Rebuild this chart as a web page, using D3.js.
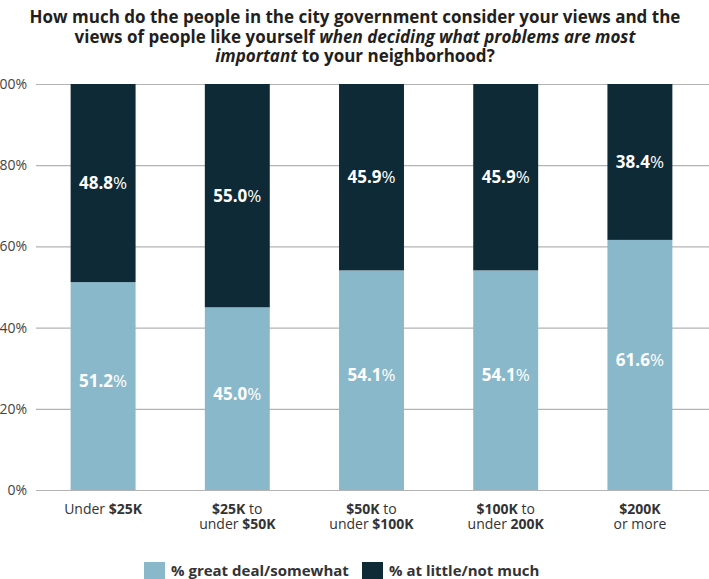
<!DOCTYPE html>
<html>
<head>
<meta charset="utf-8">
<script src="https://cdn.jsdelivr.net/npm/d3@7"></script>
<style>
  html, body { margin: 0; padding: 0; background: #fff; }
  svg { display: block; font-family: "Open Sans", Lato, sans-serif; }
</style>
</head>
<body>
<svg id="chart" width="709" height="579"></svg>
<script>
// Income brackets, each label split into lines of [text, bold] runs
const categories = ["Under $25K", "$25K to under $50K", "$50K to under $100K", "$100K to under 200K", "$200K or more"];
const categoryLines = [
  [[["Under ", false], ["$25K", true]]],
  [[["$25K", true], [" to", false]], [["under ", false], ["$50K", true]]],
  [[["$50K", true], [" to", false]], [["under ", false], ["$100K", true]]],
  [[["$100K", true], [" to", false]], [["under ", false], ["200K", true]]],
  [[["$200K", true]], [["or more", false]]]
];
const greatDeal = [51.2, 45.0, 54.1, 54.1, 61.6];
const littleNot = [48.8, 55.0, 45.9, 45.9, 38.4];
const yTicks = [0, 20, 40, 60, 80, 100];
const seriesNames = ["% great deal/somewhat", "% at little/not much"];
const colors = ["#8ab8cb", "#0e2a36"];

const svg = d3.select("#chart");

const x = d3.scaleBand().domain(categories).range([36, 707])
  .paddingInner(0.516).paddingOuter(0.258);
const y = d3.scaleLinear().domain([0, 100]).range([490, 84]);

// Title, one text element per line
const titleLines = [
  [["How much do the people in the city government consider your views and the", false]],
  [["views of people like yourself ", false], ["when deciding what problems are most", true]],
  [["important", true], [" to your neighborhood?", false]]
];
titleLines.forEach((line, i) => {
  const t = svg.append("text").attr("text-anchor", "middle")
    .attr("x", 355).attr("y", 23 + i * 19.5)
    .attr("font-size", 17).attr("font-weight", 700).attr("fill", "#231f20");
  line.forEach(([txt, italic]) => {
    t.append("tspan").attr("font-style", italic ? "italic" : "normal").text(txt);
  });
});

// Gridlines and y axis labels
const yAxis = d3.axisLeft(y).tickValues(yTicks).tickFormat(d => d + "%")
  .tickSize(-(709 - 36)).tickPadding(9);
const yg = svg.append("g").attr("transform", "translate(36,0)").call(yAxis);
yg.select(".domain").remove();
yg.selectAll(".tick line").attr("stroke", "#b3b3b3").attr("stroke-width", 1.2);
yg.selectAll(".tick text").attr("font-size", 14).attr("fill", "#444")
  .attr("font-family", "Open Sans, sans-serif");

// Stacked bars
const stackData = categories.map((c, i) => ({ cat: c, great: greatDeal[i], little: littleNot[i] }));
const stacked = d3.stack().keys(["great", "little"])(stackData);

const layers = svg.append("g").selectAll("g").data(stacked).join("g")
  .attr("fill", (d, i) => colors[i]);
layers.selectAll("rect").data(d => d).join("rect")
  .attr("x", d => x(d.data.cat))
  .attr("width", x.bandwidth())
  .attr("y", d => y(d[1]))
  .attr("height", d => y(d[0]) - y(d[1]));

// Value labels: bold number, regular percent sign
layers.each(function(layer) {
  d3.select(this).selectAll("text").data(layer).join("text")
    .attr("x", d => x(d.data.cat) + x.bandwidth() / 2)
    .attr("y", d => (y(d[0]) + y(d[1])) / 2 - (layer.key === "great" ? 5 : 0))
    .attr("dy", "0.35em")
    .attr("text-anchor", "middle")
    .attr("font-size", 17)
    .attr("fill", "#fff")
    .each(function(d) {
      const t = d3.select(this);
      const v = d.data[layer.key];
      t.append("tspan").attr("font-weight", 700).text(v.toFixed(1));
      t.append("tspan").attr("font-weight", 400).text("%");
    });
});

// Category labels under the axis, one text element per line
const xl = svg.append("g").attr("font-size", 14).attr("fill", "#333");
categories.forEach((c, i) => {
  categoryLines[i].forEach((line, j) => {
    const t = xl.append("text").attr("text-anchor", "middle")
      .attr("x", x(c) + x.bandwidth() / 2).attr("y", 514 + j * 14.5);
    line.forEach(([txt, bold]) => {
      t.append("tspan").attr("font-weight", bold ? 700 : 400).text(txt);
    });
  });
});

// Legend
const legendX = [144, 362];
const lg = svg.append("g");
seriesNames.forEach((name, i) => {
  lg.append("rect").attr("x", legendX[i]).attr("y", 562).attr("width", 21).attr("height", 20)
    .attr("fill", colors[i]);
  lg.append("text").attr("x", legendX[i] + 27).attr("y", 576)
    .attr("font-size", 15).attr("font-weight", 700).attr("fill", "#333").text(name);
});
</script>
</body>
</html>
